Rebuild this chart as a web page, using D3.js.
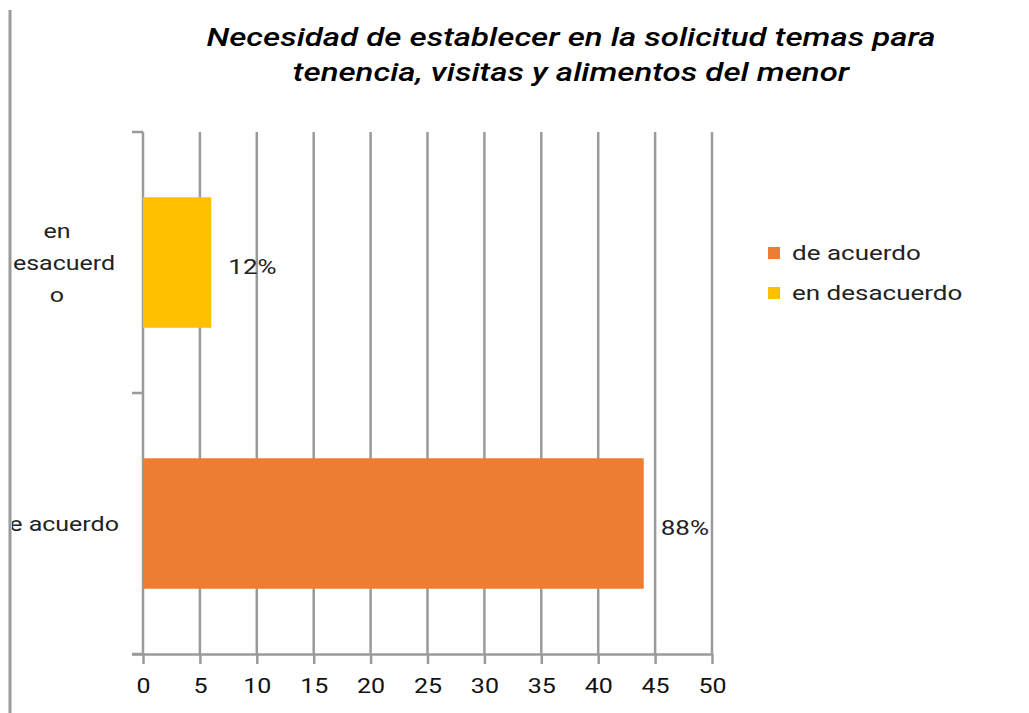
<!DOCTYPE html>
<html>
<head>
<meta charset="utf-8">
<script src="https://cdn.jsdelivr.net/npm/d3@7"></script>
<style>
  body { margin: 0; background: #fff; }
  svg { display: block; font-family: Roboto, "Noto Sans", sans-serif; }
</style>
</head>
<body>
<svg id="chart" width="1029" height="713"></svg>
<script>
// data
var categories = ["en desacuerdo", "de acuerdo"];
var values = [6, 44];
var pctLabels = ["12%", "88%"];
var legendKeys = ["de acuerdo", "en desacuerdo"];
var xTicks = [0, 5, 10, 15, 20, 25, 30, 35, 40, 45, 50];
var titleLines = ["Necesidad de establecer en la solicitud temas para", "tenencia, visitas y alimentos del menor"];

var colors = {"de acuerdo": "#ED7D31", "en desacuerdo": "#FFC000"};
var gridColor = "#9a9a9a";
var stretch = 1.25; // the source text is drawn wider than normal

var svg = d3.select("#chart"),
  margin = {top: 132, left: 143, right: 317, bottom: 59},
  width = +svg.attr("width") - margin.left - margin.right,
  height = +svg.attr("height") - margin.top - margin.bottom;

function place(x, y, s) {
  return "translate(" + x + "," + y + ") scale(" + (s || stretch) + ",1)";
}

// left border line of the cropped picture
svg.append("line")
  .attr("x1", 10).attr("x2", 10)
  .attr("y1", 10).attr("y2", 713)
  .attr("stroke", gridColor).attr("stroke-width", 3);

// title
svg.append("g").selectAll("text")
  .data(titleLines)
  .enter().append("text")
  .attr("transform", function(d, i) { return place(571, 46 + i * 35, 1.27); })
  .attr("text-anchor", "middle")
  .attr("font-size", 26)
  .attr("font-style", "italic")
  .attr("font-weight", 500)
  .attr("fill", "#000")
  .text(function(d) { return d; });

var g = svg.append("g").attr("transform", "translate(" + margin.left + "," + margin.top + ")");

var x = d3.scaleLinear().domain([0, 50]).range([0, width]);
var y = d3.scaleBand().domain(categories).range([0, height]).paddingInner(0.5).paddingOuter(0.25);

// vertical grid lines
g.append("g").selectAll("line")
  .data(xTicks)
  .enter().append("line")
  .attr("x1", function(d) { return x(d); })
  .attr("x2", function(d) { return x(d); })
  .attr("y1", 0).attr("y2", height)
  .attr("stroke", gridColor).attr("stroke-width", 2.5);

// bars
g.append("g").selectAll("rect")
  .data(categories)
  .enter().append("rect")
  .attr("x", x(0))
  .attr("y", function(d) { return y(d); })
  .attr("width", function(d, i) { return x(values[i]) - x(0); })
  .attr("height", y.bandwidth())
  .attr("fill", function(d) { return colors[d]; });

// data labels
g.append("g").selectAll("text")
  .data(categories)
  .enter().append("text")
  .attr("transform", function(d, i) { return place(x(values[i]) + 17, y(d) + y.bandwidth() / 2 + 4, 1.3); })
  .attr("dy", "0.35em")
  .attr("font-size", 20)
  .attr("fill", "#222")
  .text(function(d, i) { return pctLabels[i]; });

// x axis
var xAxis = g.append("g")
  .attr("transform", "translate(0," + height + ")")
  .call(d3.axisBottom(x).tickValues(xTicks).tickSize(10).tickPadding(15).tickSizeOuter(0));
xAxis.select(".domain").attr("stroke", gridColor).attr("stroke-width", 2.5).attr("d", "M-11,0.5H" + width);
xAxis.selectAll(".tick line").attr("stroke", gridColor).attr("stroke-width", 2.5);
xAxis.selectAll(".tick text")
  .attr("font-size", 20).attr("fill", "#111").attr("font-family", "Roboto, sans-serif")
  .attr("transform", "scale(" + stretch + ",1)");

// y axis: ticks at the band edges
var step = y.step(), off = (step - y.bandwidth()) / 2;
var edges = categories.map(function(d) { return y(d) - off; });
edges.push(y(categories[categories.length - 1]) + y.bandwidth() + off);
g.append("g").selectAll("line")
  .data(edges)
  .enter().append("line")
  .attr("x1", -11).attr("x2", 0)
  .attr("y1", function(d) { return d; }).attr("y2", function(d) { return d; })
  .attr("stroke", gridColor).attr("stroke-width", 2.5);

// category labels, clipped by the left border like the source
svg.append("clipPath").attr("id", "leftclip")
  .append("rect").attr("x", 12).attr("y", 0).attr("width", 120).attr("height", 713);

var wrapped = {"en desacuerdo": ["en", "desacuerd", "o"], "de acuerdo": ["de acuerdo"]};
var catG = svg.append("g").attr("clip-path", "url(#leftclip)");
categories.forEach(function(c) {
  var lines = wrapped[c];
  var cy = margin.top + y(c) + y.bandwidth() / 2;
  catG.selectAll(null)
    .data(lines)
    .enter().append("text")
    .attr("transform", function(d, i) { return place(57, cy + (i - (lines.length - 1) / 2) * 32); })
    .attr("dy", "0.35em")
    .attr("text-anchor", "middle")
    .attr("font-size", 20)
    .attr("fill", "#222")
    .text(function(d) { return d; });
});

// legend
var legend = svg.append("g").selectAll("g")
  .data(legendKeys)
  .enter().append("g")
  .attr("transform", function(d, i) { return "translate(768," + (253 + i * 40) + ")"; });

legend.append("rect")
  .attr("x", 0).attr("y", -6)
  .attr("width", 12).attr("height", 12)
  .attr("fill", function(d) { return colors[d]; });

legend.append("text")
  .attr("transform", place(24, 0, 1.3))
  .attr("dy", "0.35em")
  .attr("font-size", 20)
  .attr("fill", "#222")
  .text(function(d) { return d; });
</script>
</body>
</html>
